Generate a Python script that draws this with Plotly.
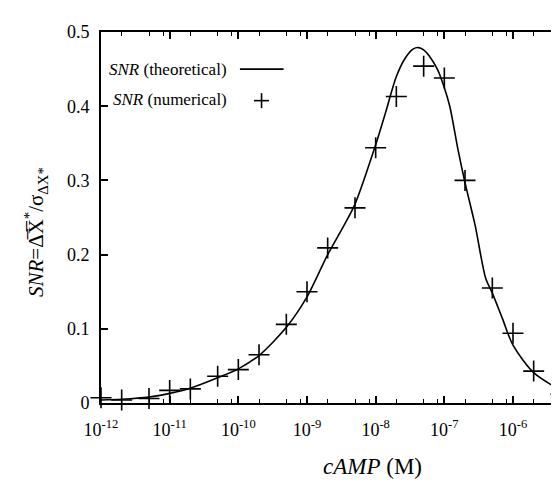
import numpy as np
import plotly.graph_objects as go

# theoretical curve
theo_x = [1e-12, 2e-12, 5e-12, 1e-11, 2e-11, 5e-11, 1e-10, 2e-10, 5e-10, 1e-9, 2e-9,
          3.3e-9, 5e-9, 1e-8, 1.4e-8, 2e-8, 2.7e-8, 3.5e-8, 4.2e-8, 5e-8, 6e-8, 8e-8,
          1e-7, 1.2e-7, 1.6e-7, 2e-7, 2.8e-7, 4e-7, 5e-7, 7e-7, 1e-6, 2e-6, 5e-6]
theo_y = [0.004, 0.005, 0.008, 0.013, 0.020, 0.034, 0.046, 0.064, 0.102, 0.143, 0.200,
          0.236, 0.268, 0.348, 0.392, 0.440, 0.465, 0.477, 0.479, 0.476, 0.468, 0.449,
          0.425, 0.400, 0.339, 0.297, 0.240, 0.168, 0.148, 0.114, 0.078, 0.041, 0.017]

# numerical points
num_x = [1e-12, 2e-12, 5e-12, 1e-11, 2e-11, 5e-11, 1e-10, 2e-10, 5e-10, 1e-9, 2e-9,
         5e-9, 1e-8, 2e-8, 5e-8, 1e-7, 2e-7, 5e-7, 1e-6, 2e-6, 5e-6]
num_y = [0.007, 0.004, 0.006, 0.017, 0.019, 0.036, 0.045, 0.065, 0.106, 0.150, 0.209,
         0.263, 0.344, 0.413, 0.454, 0.438, 0.300, 0.155, 0.094, 0.043, 0.012]

x_tick_vals = [1e-12, 1e-11, 1e-10, 1e-9, 1e-8, 1e-7, 1e-6]
x_tick_text = ["10<sup>-12</sup>", "10<sup>-11</sup>", "10<sup>-10</sup>", "10<sup>-9</sup>",
               "10<sup>-8</sup>", "10<sup>-7</sup>", "10<sup>-6</sup>"]
y_tick_vals = [0, 0.1, 0.2, 0.3, 0.4, 0.5]
y_tick_text = ["0", "0.1", "0.2", "0.3", "0.4", "0.5"]

x_minor = [m * 10.0 ** e for e in range(-12, -5) for m in (2, 5, 8)]

FONT = "Liberation Serif"

fig = go.Figure()
fig.add_trace(go.Scatter(x=theo_x, y=theo_y, mode="lines",
                         line=dict(color="black", width=1.6, shape="spline", smoothing=0.8),
                         showlegend=False, hoverinfo="skip"))
fig.add_trace(go.Scatter(x=num_x, y=num_y, mode="markers",
                         marker=dict(symbol="cross-thin", size=15,
                                     line=dict(color="black", width=1.6)),
                         cliponaxis=False, showlegend=False))

fig.update_layout(
    width=559, height=482,
    margin=dict(l=93, r=4, t=24, b=87),
    paper_bgcolor="white", plot_bgcolor="white",
    font=dict(family=FONT, color="black", size=17),
)
fig.update_xaxes(type="log", range=[-12, np.log10(5e-6)],
                 tickmode="array", tickvals=x_tick_vals, ticktext=x_tick_text,
                 ticks="inside", ticklen=7, tickwidth=1.5, tickcolor="black",
                 showline=True, linecolor="black", linewidth=1.8, mirror="allticks",
                 showgrid=False, zeroline=False, ticklabelstandoff=9,
                 tickfont=dict(family=FONT, size=18),
                 minor=dict(tickmode="array", tickvals=x_minor, ticks="inside",
                            ticklen=4, tickwidth=1.3, tickcolor="black", showgrid=False))
fig.update_yaxes(range=[0, 0.5], tickmode="array", tickvals=y_tick_vals, ticktext=y_tick_text,
                 ticks="inside", ticklen=7, tickwidth=1.5, tickcolor="black",
                 showline=True, linecolor="black", linewidth=1.8, mirror="allticks",
                 showgrid=False, zeroline=False, ticklabelstandoff=6,
                 tickfont=dict(family=FONT, size=18))

# legend (gnuplot style: text then sample)
fig.add_annotation(xref="paper", yref="paper", x=0.278, y=0.900, xanchor="right", yanchor="middle",
                   text="<i>SNR</i> (theoretical)", showarrow=False, font=dict(size=17))
fig.add_annotation(xref="paper", yref="paper", x=0.278, y=0.818, xanchor="right", yanchor="middle",
                   text="<i>SNR</i> (numerical)", showarrow=False, font=dict(size=17))
fig.add_shape(type="line", xref="paper", yref="paper", x0=0.302, x1=0.397, y0=0.900, y1=0.900,
              line=dict(color="black", width=1.6))
fig.add_shape(type="line", xref="paper", yref="paper", xsizemode="pixel", ysizemode="pixel",
              xanchor=0.349, yanchor=0.815, x0=-7.5, x1=7.5, y0=0, y1=0,
              line=dict(color="black", width=1.6))
fig.add_shape(type="line", xref="paper", yref="paper", xsizemode="pixel", ysizemode="pixel",
              xanchor=0.349, yanchor=0.815, x0=0, x1=0, y0=-7.5, y1=7.5,
              line=dict(color="black", width=1.6))

# axis titles
fig.add_annotation(xref="paper", yref="paper", x=-0.142, y=0.46, xanchor="center", yanchor="middle",
                   textangle=-90, showarrow=False, font=dict(size=21),
                   text="<i>SNR</i>=\u0394\u0305X\u0305<sup>*</sup>/\u03c3<sub>\u0394X*</sub>")
fig.add_annotation(xref="paper", yref="paper", x=0.59, y=-0.172, xanchor="center", yanchor="middle",
                   showarrow=False, font=dict(size=23),
                   text="<i>cAMP</i> (M)")

fig.write_html("out.html")
